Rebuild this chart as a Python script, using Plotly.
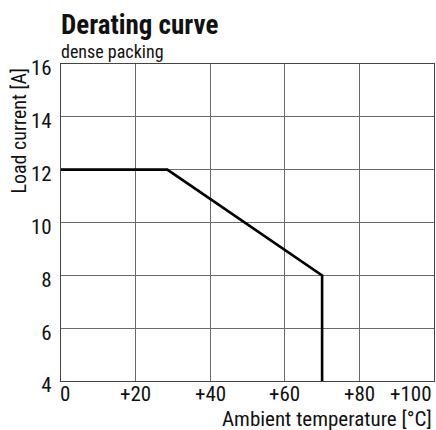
import plotly.graph_objects as go

# Data
temperature = [0, 28.5, 70, 70]
load_current = [12, 12, 8, 4]
x_tick_vals = [0, 20, 40, 60, 80, 100]
x_tick_text = ["0", "+20", "+40", "+60", "+80", "+100"]
y_tick_vals = [4, 6, 8, 10, 12, 14, 16]
y_tick_text = ["4", "6", "8", "10", "12", "14", "16"]

FONT = "Roboto Condensed, Liberation Sans, sans-serif"
TXT = "#111111"
GRID = "#6a6a6a"

fig = go.Figure()
fig.add_trace(go.Scatter(
    x=temperature, y=load_current, mode="lines",
    line=dict(color="#000000", width=2.6),
    hoverinfo="skip", showlegend=False,
))

fig.update_layout(
    width=436, height=430,
    margin=dict(l=61, r=2, t=64, b=49, autoexpand=False),
    paper_bgcolor="white", plot_bgcolor="white",
    font=dict(family=FONT, color=TXT, size=20),
    showlegend=False,
)

fig.update_xaxes(
    range=[0, 100], tickvals=x_tick_vals, showticklabels=False,
    showgrid=True, gridcolor=GRID, gridwidth=1,
    showline=True, linecolor="#444444", linewidth=1.2, mirror=True,
    zeroline=False, ticks="", automargin=False,
)
fig.update_yaxes(
    range=[4, 16], tickvals=y_tick_vals, ticktext=y_tick_text,
    showgrid=True, gridcolor=GRID, gridwidth=1,
    showline=True, linecolor="#444444", linewidth=1.2, mirror=True,
    zeroline=False, ticks="", ticklabelshift=4, ticklabelstandoff=4,
    tickfont=dict(family=FONT, size=21, color=TXT), automargin=False,
)

annotations = []
for v, t in zip(x_tick_vals, x_tick_text):
    anchor = "left" if v == x_tick_vals[0] else ("right" if v == x_tick_vals[-1] else "center")
    shift = -3 if v == x_tick_vals[0] else 0
    annotations.append(dict(
        x=v, xref="x", y=-0.041, yref="paper", text=t, showarrow=False,
        xanchor=anchor, yanchor="middle", xshift=shift,
        font=dict(family=FONT, size=21, color=TXT),
    ))

annotations += [
    dict(x=0, xref="paper", y=1.124, yref="paper", text="<b>Derating curve</b>",
         showarrow=False, xanchor="left", yanchor="middle", xshift=-2,
         font=dict(family=FONT, size=27, color=TXT)),
    dict(x=0, xref="paper", y=1.041, yref="paper", text="dense packing",
         showarrow=False, xanchor="left", yanchor="middle", xshift=-2,
         font=dict(family=FONT, size=18, color=TXT)),
    dict(x=1, xref="paper", y=-0.12, yref="paper", text="Ambient temperature [°C]",
         showarrow=False, xanchor="right", yanchor="middle",
         font=dict(family=FONT, size=21, color=TXT)),
    dict(x=-0.1126, xref="paper", y=0.79, yref="paper", text="Load current [A]",
         showarrow=False, xanchor="center", yanchor="middle", textangle=-90,
         font=dict(family=FONT, size=20, color=TXT)),
]
fig.update_layout(annotations=annotations)

fig.write_html("out.html", config={"displayModeBar": False},
               post_script="document.body.style.margin='0';document.body.style.overflow='hidden';")
